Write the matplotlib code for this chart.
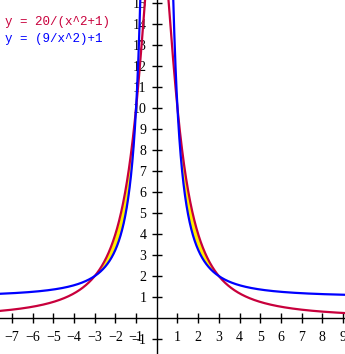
import numpy as np
import matplotlib
matplotlib.use("Agg")
import matplotlib.pyplot as plt

# Functions shown in the legend
labels = ["y = 20/(x^2+1)", "y = (9/x^2)+1"]
colors = ["#c8003c", "#0000ff"]
fill_color = "#ffee00"
x_ticks = [-7, -6, -5, -4, -3, -2, -1, 1, 2, 3, 4, 5, 6, 7, 8, 9]
y_ticks = [-1, 1, 2, 3, 4, 5, 6, 7, 8, 9, 10, 11, 12, 13, 14, 15]

def f_red(x):
    return 20.0 / (x**2 + 1)

def f_blue(x):
    return 9.0 / x**2 + 1

fig = plt.figure(figsize=(3.45, 3.54), dpi=100)
ax = fig.add_axes([0, 0, 1, 1])
xmin, xmax = -7.58, 9.1
ymin, ymax = -1.71, 15.14
ax.set_xlim(xmin, xmax)
ax.set_ylim(ymin, ymax)

xl = np.linspace(xmin, -0.05, 2000)
xr = np.linspace(0.05, xmax, 2000)

for xs in (xl, xr):
    r = f_red(xs)
    b = f_blue(xs)
    mask = (np.abs(xs) >= 1) & (np.abs(xs) <= 3)
    ax.fill_between(xs, b, r, where=mask, color=fill_color, lw=0, zorder=2)
    ax.plot(xs, r, color=colors[0], lw=1.6, zorder=3)
    ax.plot(xs, b, color=colors[1], lw=1.6, zorder=4)

for s in ("right", "top"):
    ax.spines[s].set_visible(False)
ax.spines["left"].set_position(("data", 0))
ax.spines["bottom"].set_position(("data", 0))
ax.spines["left"].set_linewidth(1)
ax.spines["bottom"].set_linewidth(1)
ax.set_xticks(x_ticks)
ax.set_yticks(y_ticks)
ax.set_xticklabels([str(t).replace("-", "\u2212") for t in x_ticks],
                   family="Liberation Serif", fontsize=10)
ax.set_yticklabels([str(t).replace("-", "\u2212") for t in y_ticks],
                   family="Liberation Serif", fontsize=10)
ax.tick_params(direction="inout", length=7, width=1, pad=4)
ax.tick_params(axis="x", pad=6)

for i, (lab, c) in enumerate(zip(labels, colors)):
    fig.text(5 / 345, 1 - (22 + 17 * i) / 354, lab, color=c,
             family="Liberation Mono", fontsize=9, va="center", ha="left")

fig.savefig("out.png", dpi=100)
